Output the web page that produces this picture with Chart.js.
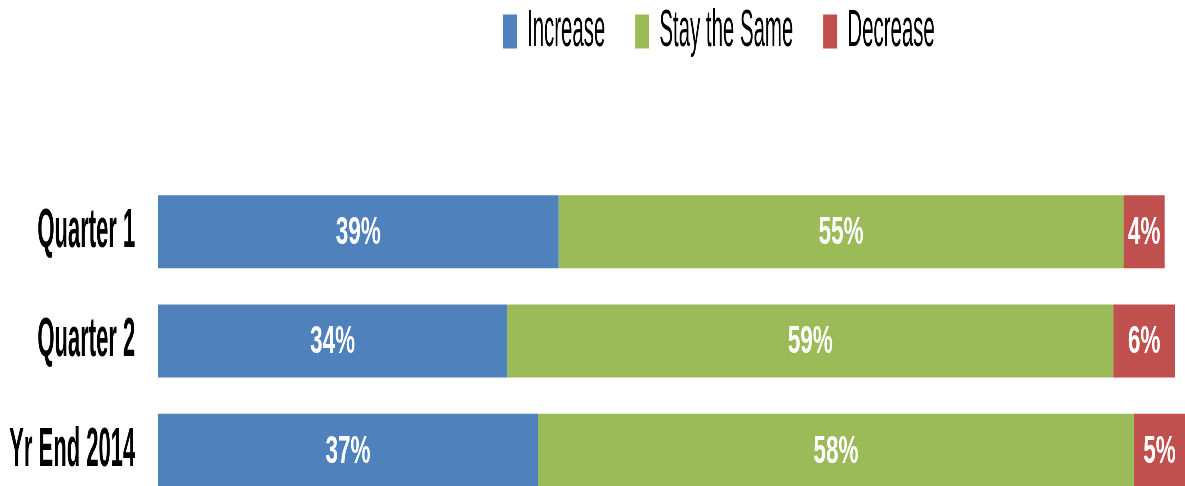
<!DOCTYPE html>
<html lang="en">
<head>
<meta charset="UTF-8">
<title>Expectations</title>
<script src="https://cdn.jsdelivr.net/npm/chart.js@4.4.1/dist/chart.umd.min.js"></script>
<style>
  html, body { margin: 0; padding: 0; background: #fff; overflow: hidden; }
  /* drawn at 2.5x width then squeezed, gives the narrow tall lettering */
  #wrap { width: 2963px; height: 510px; transform: scaleX(0.4); transform-origin: 0 0; }
  #grafico { width: 2963px; height: 510px; }
</style>
</head>
<body>
<div id="wrap"><canvas id="grafico" width="2963" height="510"></canvas></div>
<script>
  const categories = ["Quarter 1", "Quarter 2", "Yr End 2014"];
  const increase = [39, 34, 37];
  const stayTheSame = [55, 59, 58];
  const decrease = [4, 6, 5];

  const fonte = '"Liberation Sans", Arial, sans-serif';

  // percent labels inside each segment (a bit wider than the rest of the text)
  const rotulos = {
    id: 'rotulos',
    afterDatasetsDraw(chart) {
      const ctx = chart.ctx;
      chart.data.datasets.forEach((ds, i) => {
        chart.getDatasetMeta(i).data.forEach((bar, j) => {
          ctx.save();
          ctx.font = 'bold 38px ' + fonte;
          ctx.fillStyle = '#fff';
          ctx.textAlign = 'center';
          ctx.textBaseline = 'middle';
          ctx.translate((bar.x + bar.base) / 2, bar.y + 2);
          ctx.scale(1.48, 1);
          ctx.fillText(ds.data[j] + '%', 0, 0);
          ctx.restore();
        });
      });
    }
  };

  // legend sits high and right of centre, with a big gap below it
  const legendaPos = {
    id: 'legendaPos',
    beforeInit(chart) {
      const fit = chart.legend.fit;
      chart.legend.fit = function () {
        fit.call(this);
        this.height = 177;
      };
    },
    afterLayout(chart) {
      chart.legend.left = 1257 - 75;
      chart.legend.top = -69;
    }
  };

  new Chart(document.getElementById('grafico'), {
    type: 'bar',
    data: {
      labels: categories,
      datasets: [
        { label: 'Increase', data: increase, backgroundColor: '#4F81BD' },
        { label: 'Stay the Same', data: stayTheSame, backgroundColor: '#9BBB59' },
        { label: 'Decrease', data: decrease, backgroundColor: '#C0504D' }
      ]
    },
    options: {
      indexAxis: 'y',
      responsive: false,
      animation: false,
      categoryPercentage: 1,
      barPercentage: 0.668,
      layout: { padding: { left: 0, right: 0, top: 0, bottom: 5 } },
      plugins: {
        tooltip: { enabled: false },
        legend: {
          position: 'top',
          align: 'start',
          labels: {
            color: '#000',
            boxWidth: 35,
            boxHeight: 34,
            padding: 75,
            font: { family: fonte, size: 51 }
          }
        }
      },
      scales: {
        x: { stacked: true, display: false, min: 0, max: 100 },
        y: {
          stacked: true,
          grid: { display: false, drawTicks: false },
          border: { display: false },
          ticks: {
            color: '#000',
            padding: 57,
            font: { family: fonte, size: 55, weight: 'bold' }
          },
          afterFit(scale) {
            scale.width = 395;
            // the label padding would otherwise squeeze the bars from below
            scale.paddingTop = 0;
            scale.paddingBottom = 0;
          }
        }
      }
    },
    plugins: [rotulos, legendaPos]
  });
</script>
</body>
</html>
